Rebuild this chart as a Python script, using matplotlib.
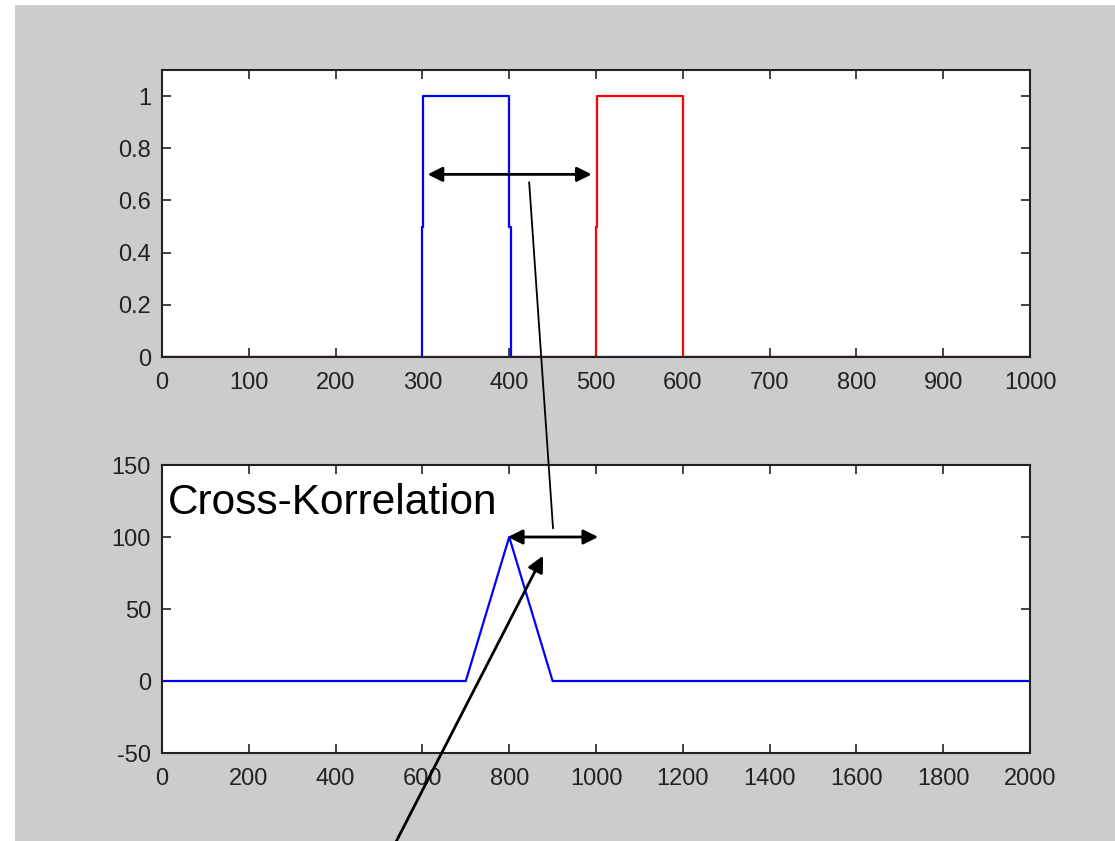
import matplotlib.pyplot as plt
from matplotlib.patches import Rectangle, ConnectionPatch

# top panel: two rectangular pulses (breakpoints)
pulse_a_x = [0, 300, 300, 301, 301, 400, 400, 402, 402, 1000]
pulse_a_y = [0, 0, 0.5, 0.5, 1, 1, 0.5, 0.5, 0, 0]
pulse_b_x = [0, 500, 500, 501, 501, 600, 600, 1000]
pulse_b_y = [0, 0, 0.5, 0.5, 1, 1, 0, 0]

# bottom panel: cross correlation
xcorr_x = [0, 700, 800, 900, 2000]
xcorr_y = [0, 0, 100, 0, 0]

top_xticks = list(range(0, 1001, 100))
top_yticks = [0, 0.2, 0.4, 0.6, 0.8, 1]
bot_xticks = list(range(0, 2001, 200))
bot_yticks = [-50, 0, 50, 100, 150]

plt.rcParams['font.family'] = ['Liberation Sans', 'DejaVu Sans']
plt.rcParams['axes.unicode_minus'] = False

W, H = 1115, 841
fig = plt.figure(figsize=(W / 100, H / 100), dpi=100, facecolor='white')
# grey MATLAB figure background with thin white margin at top/left
fig.add_artist(Rectangle((15 / W, 0), 1 - 15 / W, (H - 5) / H,
                         transform=fig.transFigure, facecolor='#cccccc',
                         edgecolor='none', zorder=-10))

ax1 = fig.add_axes([162 / W, 1 - 357 / H, 868 / W, 287 / H])
ax2 = fig.add_axes([162 / W, 1 - 753 / H, 868 / W, 288 / H])

ax1.plot(pulse_a_x, pulse_a_y, color='blue', lw=1.6)
ax1.plot(pulse_b_x, pulse_b_y, color='red', lw=1.6)
ax1.set_xlim(0, 1000)
ax1.set_ylim(0, 1.1)
ax1.set_xticks(top_xticks)
ax1.set_yticks(top_yticks)
ax1.set_yticklabels(['0', '0.2', '0.4', '0.6', '0.8', '1'])

ax2.plot(xcorr_x, xcorr_y, color='blue', lw=1.6)
ax2.set_xlim(0, 2000)
ax2.set_ylim(-50, 150)
ax2.set_xticks(bot_xticks)
ax2.set_yticks(bot_yticks)
ax2.text(14, 116, 'Cross-Korrelation', fontsize=30.5, ha='left', va='baseline')

for ax in (ax1, ax2):
    ax.set_facecolor('white')
    ax.tick_params(direction='in', length=6.5, width=1.2, top=True, right=True,
                   labelsize=17, colors='#222222')
    ax.tick_params(axis='x', pad=11)
    ax.tick_params(axis='y', pad=8)
    for s in ax.spines.values():
        s.set_linewidth(1.5)
        s.set_color('#222222')

# annotations
arrow = dict(arrowstyle='<|-|>', color='black', lw=2, mutation_scale=22,
             shrinkA=0, shrinkB=0)
ax1.annotate('', xy=(495, 0.7), xytext=(306, 0.7), arrowprops=arrow)
ax2.annotate('', xy=(1005, 100), xytext=(797, 100), arrowprops=arrow)

con = ConnectionPatch(xyA=(423, 0.67), coordsA=ax1.transData,
                      xyB=(901, 106), coordsB=ax2.transData,
                      color='black', lw=1.3)
fig.add_artist(con)

ax2.annotate('', xy=(878, 87), xytext=(525, -120), xycoords='data',
             annotation_clip=False,
             arrowprops=dict(arrowstyle='-|>', color='black', lw=2,
                             mutation_scale=24, shrinkA=0, shrinkB=0))

fig.savefig('out.png', dpi=100)
